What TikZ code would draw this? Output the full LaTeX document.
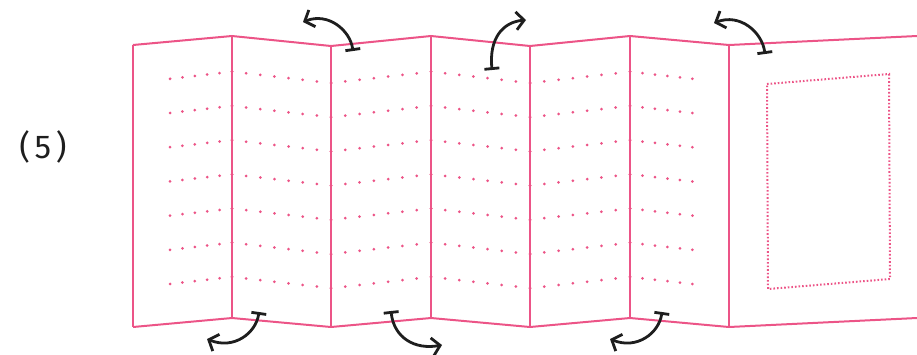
\documentclass[tikz,border=0pt]{standalone}
\usepackage{fontspec}
\newfontfamily\labfont[LetterSpace=14]{Fira Sans}
\usetikzlibrary{arrows.meta}
\definecolor{pk}{RGB}{236,84,135}
\definecolor{ink}{RGB}{30,30,30}
\tikzset{
  fold/.style={draw=pk, line width=2pt, line join=miter},
  dotrect/.style={draw=pk, line width=2pt, dash pattern=on 1.6pt off 2pt},
  flip/.style={draw=ink, line width=2.8pt, line cap=round,
    {Bar[width=15pt, line width=2.8pt]}-{Straight Barb[length=8pt, width=18pt, line width=2.8pt]}},
  dotc/.style={fill=pk}
}
\begin{document}
\begin{tikzpicture}[x=1pt, y=-1pt]
\useasboundingbox (0,0) rectangle (917,354);
% label
\node[font=\labfont\fontsize{33}{36}\selectfont, text=ink] (lab) at (43,147) {(5)};
% outline
\draw[fold] (133,45) -- (232,36) -- (331,46) -- (431,36) -- (530,46) -- (630,36) -- (729,45) -- (917,36);
\draw[fold] (133,327) -- (232,318) -- (331,327) -- (431,318) -- (530,327) -- (630,318) -- (729,327) -- (917,318);
\foreach \x/\a/\b in {133/45/327, 232/36/318, 331/46/327, 431/36/318, 530/46/327, 630/36/318, 729/45/327}
  \draw[fold] (\x,\a) -- (\x,\b);
% dotted rows
\foreach \k in {0,...,6} {
  \foreach \xa/\ya/\xb/\yb/\fa/\fb/\n in {133/83/232/71.7/0.374/1/5, 232/71.7/331/83/0/1/7, 331/83/431/71.7/0/1/7, 431/71.7/530/83/0/1/7, 530/83/630/71.7/0/1/7, 630/71.7/729/83/0/0.63/5} {
    \foreach \j in {0,...,\n} {
      \pgfmathsetmacro\f{\fa+(\fb-\fa)*\j/\n}
      \fill[dotc] ({\xa+(\xb-\xa)*\f},{\ya+(\yb-\ya)*\f+34.2*\k}) circle[radius=1.5pt];
    }
  }
}
% dotted rectangle in last panel
\draw[dotrect] (767,84) -- (889,74) -- (890,279) -- (768,289) -- cycle;
% flip arrows
\coordinate (a1s) at (353,51); \coordinate (a1e) at (303,22);
\coordinate (a2s) at (492,70); \coordinate (a2e) at (526,20);
\coordinate (a3s) at (765,54); \coordinate (a3e) at (714,23);
\coordinate (a4s) at (259,312); \coordinate (a4e) at (207,339);
\coordinate (a5s) at (391,311); \coordinate (a5e) at (442,345);
\coordinate (a6s) at (662,312); \coordinate (a6e) at (610,339);
\draw[flip] (a1s) .. controls (350,30) and (328,12) .. (a1e);
\draw[flip] (a2s) .. controls (489,38) and (503,22) .. (a2e);
\draw[flip] (a3s) .. controls (762,32) and (740,13) .. (a3e);
\draw[flip] (a4s) .. controls (256,333) and (234,350) .. (a4e);
\draw[flip] (a5s) .. controls (394,338) and (415,350) .. (a5e);
\draw[flip] (a6s) .. controls (659,333) and (637,350) .. (a6e);
\end{tikzpicture}
\end{document}
